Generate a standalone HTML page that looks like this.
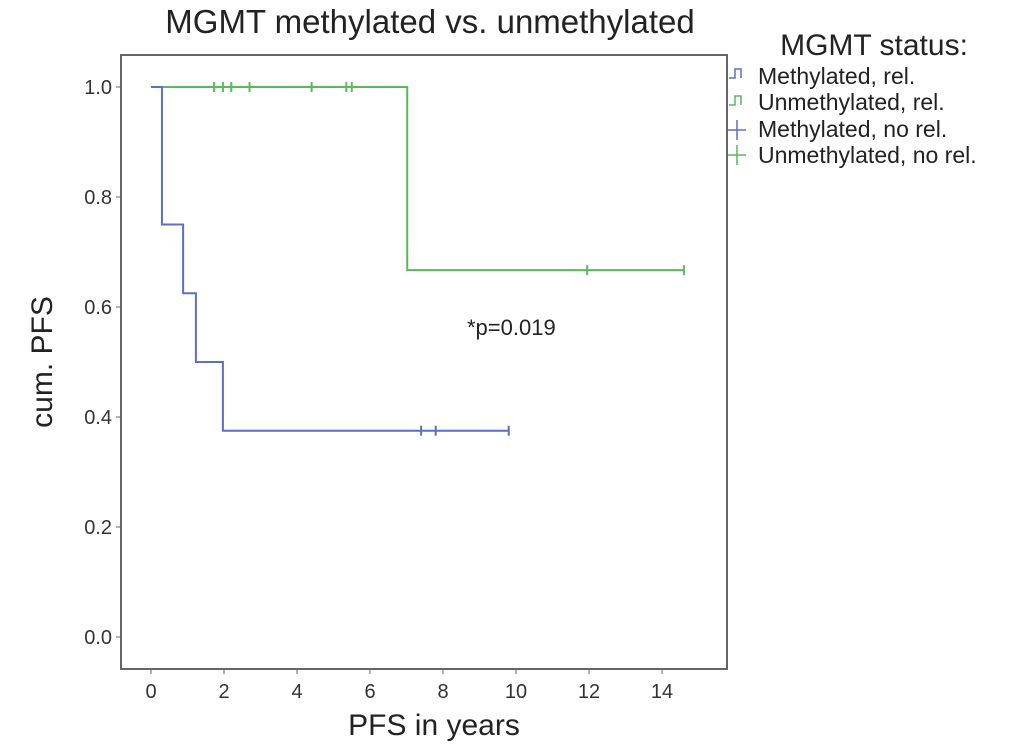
<!DOCTYPE html>
<html><head><meta charset="utf-8"><style>
body{margin:0;background:#fff;}
svg{display:block;font-family:"Liberation Sans",sans-serif;}
</style></head><body>
<svg id="chart" width="1033" height="753">
<text x="430" y="33" font-size="33" text-anchor="middle" fill="#222">MGMT methylated vs. unmethylated</text>
<rect x="121" y="55" width="606" height="614" fill="none" stroke="#666" stroke-width="2"/>
<g id="axes"></g>
<g id="series"></g>
<text x="467" y="335" font-size="22" fill="#222">*p=0.019</text>
<text x="434" y="735" font-size="30" text-anchor="middle" fill="#222">PFS in years</text>
<text transform="translate(52,362) rotate(-90)" font-size="30" text-anchor="middle" fill="#222">cum. PFS</text>
<g>
<text x="874" y="55" font-size="30" text-anchor="middle" fill="#222">MGMT status:</text>
<g><path d="M729,78 h6 v-9 h6 v9" fill="none" stroke="#5a70c8" stroke-width="1.5"/><text x="758" y="84" font-size="23" fill="#222">Methylated, rel.</text></g>
<g><path d="M729,105 h6 v-9 h6 v9" fill="none" stroke="#5cb85c" stroke-width="1.5"/><text x="758" y="110" font-size="23" fill="#222">Unmethylated, rel.</text></g>
<g><path d="M728,130 h18 M737,120 v20" stroke="#5a70c8" stroke-width="1.5"/><text x="758" y="137" font-size="23" fill="#222">Methylated, no rel.</text></g>
<g><path d="M728,155 h18 M737,145 v20" stroke="#5cb85c" stroke-width="1.5"/><text x="758" y="163" font-size="23" fill="#222">Unmethylated, no rel.</text></g>
</g>
</svg>
<script>
const xTicks=[0,2,4,6,8,10,12,14];
const yTicks=[0.0,0.2,0.4,0.6,0.8,1.0];
const methTimes=[0,0.3,0.88,1.23,1.97,9.8];
const methSurv=[1.0,0.75,0.625,0.5,0.375,0.375];
const methCensor=[7.4,7.8,9.8];
const unmethTimes=[0,7.02,14.6];
const unmethSurv=[1.0,0.667,0.667];
const unmethCensor=[1.73,1.97,2.2,2.7,4.4,5.35,5.5,11.95,14.6];
const xs=t=>151+t*36.5;
const ys=v=>637-v*550;
const NS='http://www.w3.org/2000/svg';
const ax=document.getElementById('axes'),sr=document.getElementById('series');
function mk(tag,at,par){const e=document.createElementNS(NS,tag);for(const k in at)e.setAttribute(k,at[k]);par.appendChild(e);return e;}
xTicks.forEach(t=>{
 const l=mk('line',{x1:xs(t),x2:xs(t),y1:669,y2:674,stroke:'#666'},ax);
 
 
 const tx=mk('text',{x:xs(t),y:698,'font-size':20,'text-anchor':'middle',fill:'#333'},ax);tx.textContent=t;
 
 
});
yTicks.forEach(v=>{
 const l=mk('line',{x1:116,x2:121,y1:ys(v),y2:ys(v),stroke:'#666'},ax);
 
 
 const tx=mk('text',{x:112,y:ys(v)+7,'font-size':20,'text-anchor':'end',fill:'#333'},ax);tx.textContent=v.toFixed(1);
 
 
});
function stepPath(T,S){let d='M'+xs(T[0])+','+ys(S[0]);for(let i=1;i<T.length;i++){d+=' H'+xs(T[i])+' V'+ys(S[i]);}return d;}
function survAt(T,S,t){let s=S[0];for(let i=0;i<T.length;i++)if(T[i]<=t)s=S[i];return s;}
function draw(T,S,C,col,name){
 const p=mk('path',{d:stepPath(T,S),fill:'none',stroke:col,'stroke-width':2},sr);
 
 
 C.forEach(t=>{const y=ys(survAt(T,S,t)),x=xs(t);
  const c=mk('path',{d:`M${x},${y-5} V${y+5}`,stroke:col,'stroke-width':2},sr);
  
  
 });
}
draw(unmethTimes,unmethSurv,unmethCensor,'#5cb85c','unmethylated');
draw(methTimes,methSurv,methCensor,'#5a70c8','methylated');
</script>
</body></html>
